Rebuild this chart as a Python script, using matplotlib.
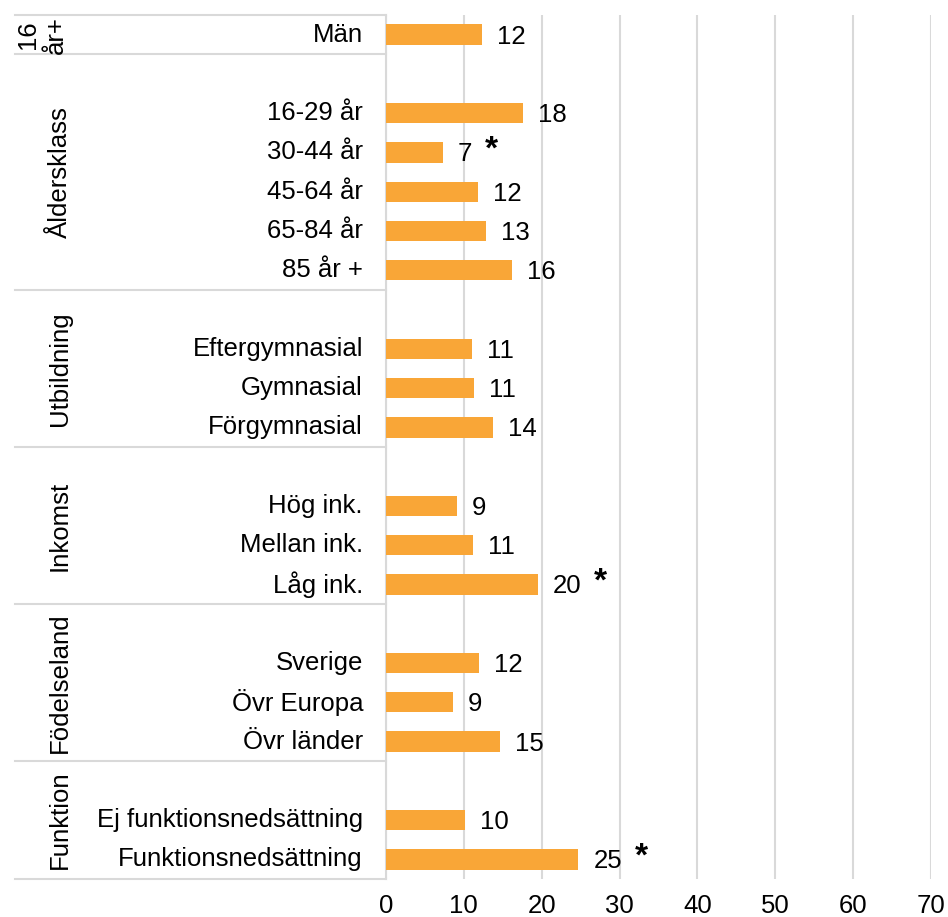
import matplotlib.pyplot as plt
from matplotlib.transforms import blended_transform_factory
from matplotlib.lines import Line2D

plt.rcParams['font.family'] = ['Liberation Sans', 'DejaVu Sans']

# rows from top to bottom; None = empty spacer row
categories = ["Män", None,
              "16-29 år", "30-44 år", "45-64 år", "65-84 år", "85 år +", None,
              "Eftergymnasial", "Gymnasial", "Förgymnasial", None,
              "Hög ink.", "Mellan ink.", "Låg ink.", None,
              "Sverige", "Övr Europa", "Övr länder", None,
              "Ej funktionsnedsättning", "Funktionsnedsättning"]
values = [12.3, None,
          17.6, 7.3, 11.8, 12.9, 16.2, None,
          11.0, 11.3, 13.7, None,
          9.1, 11.2, 19.5, None,
          11.9, 8.6, 14.6, None,
          10.1, 24.7]
labels = ["12", None,
          "18", "7", "12", "13", "16", None,
          "11", "11", "14", None,
          "9", "11", "20", None,
          "12", "9", "15", None,
          "10", "25"]
significant = ["30-44 år", "Låg ink.", "Funktionsnedsättning"]

groups = ["16\når+", "Åldersklass", "Utbildning", "Inkomst", "Födelseland", "Funktion"]
group_sizes = [1, 6, 4, 4, 4, 3]

W, H = 948, 917
fig = plt.figure(figsize=(W / 100, H / 100), dpi=100)
ax = fig.add_axes([386 / W, 1 - 879 / H, (931 - 386) / W, (879 - 15) / H])

n = len(categories)
ypos = list(range(n))
bar_color = "#F9A637"
grid_color = "#D9D9D9"
fs = 18.5

for y, v, lab, cat in zip(ypos, values, labels, categories):
    if v is None:
        continue
    ax.barh(y, v, height=0.52, color=bar_color, zorder=3)
    ax.annotate(lab, (v, y), xytext=(15, -2), textcoords="offset pixels",
                ha="left", va="center", fontsize=fs)
    if cat in significant:
        dx = 15 + 14 * len(lab) + 20
        ax.annotate("*", (v, y), xytext=(dx, 2), textcoords="offset pixels",
                    ha="center", va="center", fontsize=24, fontweight="bold")

ax.set_ylim(n - 0.5, -0.5)
ax.set_xlim(0, 70)
ax.set_xticks(range(0, 71, 10))
ax.set_yticks([])
ax.tick_params(axis="x", length=0, labelsize=fs, pad=11)
ax.grid(axis="x", color=grid_color, linewidth=1.5, zorder=0)
for s in ["top", "right", "bottom"]:
    ax.spines[s].set_visible(False)
ax.spines["left"].set_color(grid_color)
ax.spines["left"].set_linewidth(1.5)

# category labels and group labels on the left
trans = blended_transform_factory(fig.transFigure, ax.transData)
for y, cat in zip(ypos, categories):
    if cat is None:
        continue
    ax.text(363 / W, y, cat, transform=trans, ha="right", va="center", fontsize=fs)

start = -0.5
ax.add_line(Line2D([15 / W, 386 / W], [start, start], transform=trans,
                   color=grid_color, linewidth=1.5, clip_on=False))
for g, size in zip(groups, group_sizes):
    end = start + size
    ax.add_line(Line2D([15 / W, 386 / W], [end, end], transform=trans,
                       color=grid_color, linewidth=1.5, clip_on=False))
    ax.text((42 if "\n" in g else 60) / W, (start + end) / 2, g, transform=trans,
            rotation=90, ha="center", va="center", fontsize=fs,
            multialignment="center", linespacing=1.25)
    start = end

fig.savefig("out.png", dpi=100)
